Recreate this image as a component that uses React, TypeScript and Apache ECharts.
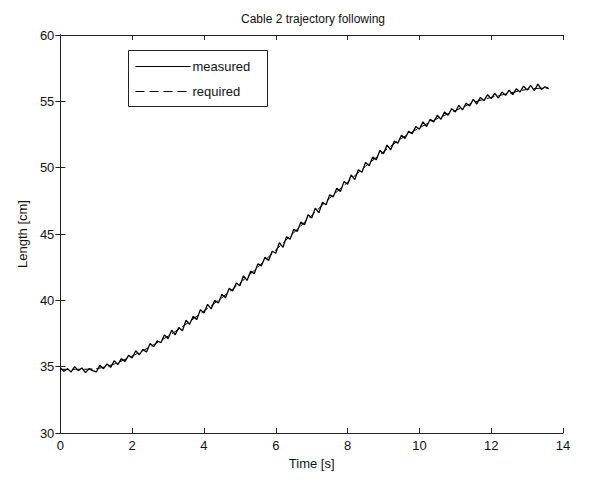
import React, { useEffect, useRef } from "react";
import * as echarts from "echarts";

const TITLE = "Cable 2 trajectory following";
const X_NAME = "Time [s]";
const Y_NAME = "Length [cm]";
const LEGEND_NAMES = ["measured", "required"];

const MEASURED_START = 0;
const MEASURED_STEP = 0.1;
const measuredValues = [
  34.9, 34.65, 34.85, 34.6, 35.0, 34.7, 34.9, 34.55, 34.85, 34.7, 34.6,
  35.1, 34.85, 35.2, 34.95, 35.45,
  35.15, 35.6, 35.4, 35.85, 35.65,
  36.2, 35.9, 36.3, 36.1, 36.75,
  36.5, 36.95, 36.8, 37.4, 37.1,
  37.75, 37.4, 37.95, 37.7, 38.5,
  38.2, 38.8, 38.55, 39.3, 39.05,
  39.7, 39.35, 40.0, 39.8, 40.45,
  40.2, 40.9, 40.7, 41.3, 41.1,
  41.85, 41.5, 42.2, 42.0, 42.75,
  42.6, 43.25, 43.0, 43.7, 43.55,
  44.35, 44.0, 44.8, 44.6, 45.35,
  45.2, 45.9, 45.7, 46.45, 46.2,
  46.95, 46.6, 47.4, 47.2, 47.95,
  47.8, 48.45, 48.2, 48.95, 48.75,
  49.45, 49.1, 49.85, 49.65, 50.4,
  50.15, 50.8, 50.6, 51.3, 51.05,
  51.7, 51.35, 52.0, 51.85, 52.45,
  52.2, 52.75, 52.55, 53.1, 52.9,
  53.45, 53.1, 53.65, 53.45, 53.95,
  53.65, 54.2, 53.95, 54.45, 54.2,
  54.7, 54.35, 54.85, 54.65, 55.15,
  54.8, 55.3, 55.05, 55.5, 55.2,
  55.6, 55.25, 55.7, 55.45, 55.85,
  55.5, 55.95, 55.7, 56.15, 55.85,
  56.2, 55.8, 56.3, 55.9, 56.1, 55.95,
];

const requiredTimes = [
  0, 0.5, 1, 1.5, 2, 2.5, 3, 3.5, 4, 4.5, 5, 5.5, 6, 6.5, 7, 7.5, 8, 8.5,
  9, 9.5, 10, 10.5, 11, 11.5, 12, 12.5, 13, 13.5, 13.6,
];
const requiredValues = [
  34.8, 34.8, 34.85, 35.2, 35.8, 36.5, 37.3, 38.2, 39.2, 40.2, 41.3, 42.5,
  43.8, 45.1, 46.4, 47.7, 48.9, 50.1, 51.2, 52.2, 53.0, 53.7, 54.3, 54.9,
  55.3, 55.6, 55.9, 56.0, 56.0,
];

const X_MIN = 0;
const X_MAX = 14;
const X_INTERVAL = 2;
const Y_MIN = 30;
const Y_MAX = 60;
const Y_INTERVAL = 5;

const FONT = "Liberation Sans, Arial, sans-serif";

export default function App() {
  const ref = useRef<HTMLDivElement>(null);

  useEffect(() => {
    if (!ref.current) return;
    const chart = echarts.init(ref.current, undefined, { renderer: "svg" });

    const measured = measuredValues.map((v, i) => [
      +(MEASURED_START + i * MEASURED_STEP).toFixed(2),
      v,
    ]);
    const required = requiredTimes.map((t, i) => [t, requiredValues[i]]);

    const axisLine = { show: true, lineStyle: { color: "#222", width: 1 } };
    const axisTick = { show: true, inside: true, length: 5, lineStyle: { color: "#222", width: 1 } };

    chart.setOption({
      animation: false,
      backgroundColor: "#fff",
      textStyle: { fontFamily: FONT },
      title: {
        text: TITLE,
        left: 300,
        textAlign: "center",
        top: 0,
        textStyle: { fontSize: 12, fontWeight: "normal", color: "#111", fontFamily: FONT },
      },
      legend: { show: false },
      graphic: [
        {
          type: "group",
          left: 120,
          top: 42,
          z: 100,
          children: [
            {
              type: "rect",
              shape: { x: 0, y: 0, width: 139, height: 56 },
              style: { fill: "#fff", stroke: "#222", lineWidth: 1 },
            },
            {
              type: "line",
              shape: { x1: 7, y1: 16, x2: 62, y2: 16 },
              style: { stroke: "#000", lineWidth: 1 },
            },
            {
              type: "text",
              x: 64,
              y: 16,
              style: { text: LEGEND_NAMES[0], fontSize: 13, fill: "#111", fontFamily: FONT, verticalAlign: "middle" },
            },
            {
              type: "line",
              shape: { x1: 7, y1: 41, x2: 62, y2: 41 },
              style: { stroke: "#000", lineWidth: 1, lineDash: [9, 5] },
            },
            {
              type: "text",
              x: 64,
              y: 41,
              style: { text: LEGEND_NAMES[1], fontSize: 13, fill: "#111", fontFamily: FONT, verticalAlign: "middle" },
            },
          ],
        },
      ],
      grid: { left: 49, right: 19, top: 27, bottom: 39, containLabel: false },
      xAxis: [
        {
          type: "value",
          min: X_MIN,
          max: X_MAX,
          interval: X_INTERVAL,
          name: X_NAME,
          nameLocation: "middle",
          nameGap: 24,
          nameTextStyle: { fontSize: 13, color: "#111", fontFamily: FONT },
          axisLine,
          axisTick,
          splitLine: { show: false },
          axisLabel: { fontSize: 13, color: "#111", margin: 6, fontFamily: FONT },
        },
        {
          type: "value",
          position: "top",
          min: X_MIN,
          max: X_MAX,
          interval: X_INTERVAL,
          axisLine,
          axisTick,
          splitLine: { show: false },
          axisLabel: { show: false },
        },
      ],
      yAxis: [
        {
          type: "value",
          min: Y_MIN,
          max: Y_MAX,
          interval: Y_INTERVAL,
          name: Y_NAME,
          nameLocation: "middle",
          nameGap: 31,
          nameTextStyle: { fontSize: 13, color: "#111", fontFamily: FONT },
          axisLine,
          axisTick,
          splitLine: { show: false },
          axisLabel: { fontSize: 13, color: "#111", margin: 6, fontFamily: FONT },
        },
        {
          type: "value",
          position: "right",
          min: Y_MIN,
          max: Y_MAX,
          interval: Y_INTERVAL,
          axisLine,
          axisTick,
          splitLine: { show: false },
          axisLabel: { show: false },
        },
      ],
      series: [
        {
          name: "required",
          type: "line",
          data: required,
          smooth: 0.3,
          showSymbol: false,
          symbol: "none",
          lineStyle: { color: "#000", width: 1, type: [8, 4] },
          itemStyle: { color: "#000" },
          z: 2,
        },
        {
          name: "measured",
          type: "line",
          data: measured,
          showSymbol: false,
          symbol: "none",
          lineStyle: { color: "#000", width: 1.3 },
          itemStyle: { color: "#000" },
          z: 3,
        },
      ],
    });

    return () => chart.dispose();
  }, []);

  return <div ref={ref} style={{ width: 574, height: 467 }} />;
}
